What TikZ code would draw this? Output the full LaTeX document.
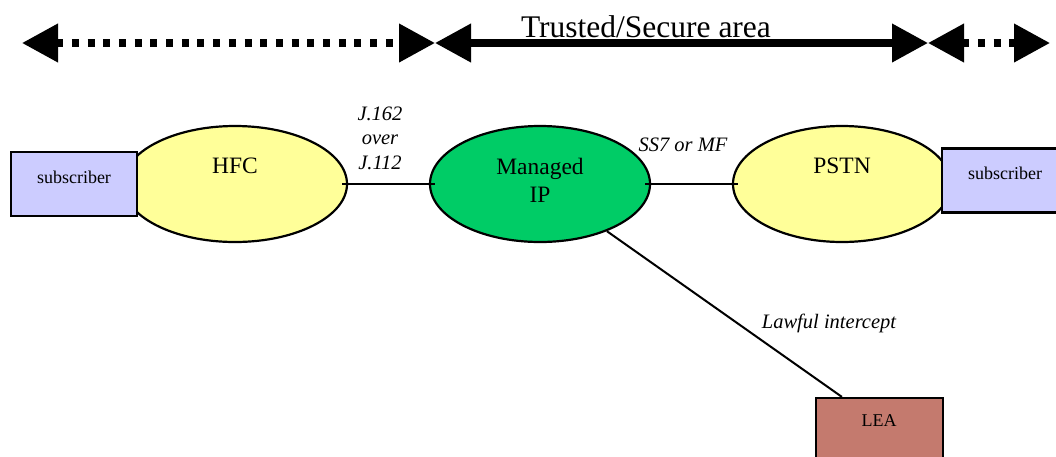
\documentclass[tikz,border=0pt]{standalone}
\usepackage{fontspec}
\setmainfont{Liberation Serif}
\usetikzlibrary{shapes.geometric,arrows.meta,calc}
\definecolor{subfill}{RGB}{204,204,255}
\definecolor{netyellow}{RGB}{255,255,153}
\definecolor{ipgreen}{RGB}{0,204,102}
\definecolor{leafill}{RGB}{196,122,110}
\tikzset{
  net/.style={ellipse, draw=black, line width=2.2pt, inner sep=0pt, minimum width=#1, minimum height=116pt},
  boxnode/.style={rectangle, draw=black, line width=2.2pt, inner sep=0pt, minimum width=126pt, minimum height=64pt},
  bigtext/.style={inner sep=0pt, font=\fontsize{23.5}{28}\selectfont},
  smalltext/.style={inner sep=0pt, font=\fontsize{18}{22}\selectfont},
  itext/.style={inner sep=0pt, align=center, font=\fontsize{20.5}{24.5}\selectfont\itshape},
  conn/.style={draw=black, line width=2pt, shorten <=-6pt, shorten >=-6pt},
  zonedot/.style={line width=7.3pt, dash pattern=on 7pt off 8.7pt, {Triangle[length=36pt,width=37pt]}-{Triangle[length=36pt,width=37pt]}},
  zonesolid/.style={line width=7.3pt, {Triangle[length=36pt,width=37pt]}-{Triangle[length=36pt,width=37pt]}}
}
\begin{document}
\begin{tikzpicture}[x=1pt,y=-1pt]
\clip (0,0) rectangle (1056,456);
\useasboundingbox (0,0) rectangle (1056,456);

% top zone arrows
\coordinate (a1) at (22,43);
\coordinate (a2) at (435,43);
\coordinate (a3) at (928,43);
\coordinate (a4) at (1050,43);
\draw[zonedot] (a1) -- (a2);
\draw[zonesolid] (a2) -- (a3);
\draw[zonedot] (a3) -- (a4);
\node[anchor=base, inner sep=0pt, font=\fontsize{31.5}{36}\selectfont] (zone) at (646,37) {Trusted/Secure area};

% networks
\node[net=224pt, fill=netyellow] (hfc) at (235,184) {};
\node[net=220pt, fill=ipgreen] (ip) at (540,184) {};
\node[net=218pt, fill=netyellow] (pstn) at (842,184) {};

% boxes
\node[boxnode, fill=subfill] (subL) at (74,184) {};
\node[boxnode, fill=subfill] (subR) at (1005,180.5) {};
\node[boxnode, fill=leafill, minimum width=127pt] (lea) at (879.5,430) {};

% texts in shapes
\node[bigtext] (hfcT) at (235,166) {HFC};
\node[bigtext, align=center] (ipT) at (540,180) {Managed\\IP};
\node[bigtext] (pstnT) at (842,166) {PSTN};
\node[smalltext] (subLT) at (74,177) {subscriber};
\node[smalltext] (subRT) at (1005,173) {subscriber};
\node[smalltext] (leaT) at (879,421) {LEA};

% connectors
\draw[conn] (hfc.east) -- (ip.west);
\draw[conn] (ip.east) -- (pstn.west);
\coordinate (leaTop) at ($(lea.north west)+(27,0)$);
\draw[draw=black, line width=2pt] (ip) -- (leaTop);

% connector labels
\node[itext] (j162) at (380,138) {J.162\\over\\J.112};
\node[itext] (ss7) at (683,145) {SS7 or MF};
\node[itext] (lawful) at (829,323) {Lawful intercept};
\end{tikzpicture}
\end{document}
